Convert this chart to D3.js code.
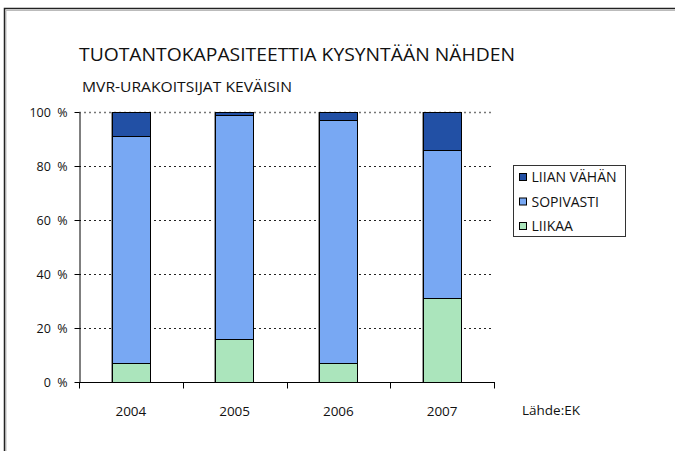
<!DOCTYPE html>
<html>
<head>
<meta charset="utf-8">
<script src="https://cdn.jsdelivr.net/npm/d3@7"></script>
<style>
    html, body { margin: 0; background: #fff; overflow: hidden; }
    svg { display: block; font-family: 'Open Sans', sans-serif; }
</style>
</head>
<body>
<div id="chart"></div>
<script>
// categories and series (percent shares)
var years = ['2004', '2005', '2006', '2007'];
var liikaa = [7, 16, 7, 31];
var sopivasti = [84, 83, 90, 55];
var liianVahan = [9, 1, 3, 14];
var yTicks = [0, 20, 40, 60, 80, 100];

var seriesNames = ['LIIKAA', 'SOPIVASTI', 'LIIAN VÄHÄN'];
var seriesColors = ['#abe5bc', '#78a8f3', '#2250a5'];

var width = 675, height = 451;

var svg = d3.select('#chart').append('svg')
    .attr('width', width)
    .attr('height', height);

//outer frame, cropped at right and bottom like the original
svg.append('path')
    .attr('d', 'M6,' + height + 'V10.5H' + width)
    .attr('fill', 'none')
    .attr('stroke', '#bbb')
    .attr('stroke-width', 1);
svg.append('path')
    .attr('d', 'M4.5,' + height + 'V8.5H' + width)
    .attr('fill', 'none')
    .attr('stroke', '#222')
    .attr('stroke-width', 1.5);

//titles
svg.append('text')
    .attr('x', 79).attr('y', 61)
    .attr('font-size', 18)
    .attr('textLength', 436)
    .attr('lengthAdjust', 'spacingAndGlyphs')
    .attr('fill', '#111')
    .text('TUOTANTOKAPASITEETTIA KYSYNTÄÄN NÄHDEN');
svg.append('text')
    .attr('x', 82).attr('y', 92)
    .attr('font-size', 14)
    .attr('textLength', 210)
    .attr('lengthAdjust', 'spacingAndGlyphs')
    .attr('fill', '#111')
    .text('MVR-URAKOITSIJAT KEVÄISIN');

//scales
var x = d3.scaleBand().domain(years).range([79, 494]).padding(0);
var y = d3.scaleLinear().domain([0, 100]).range([382, 112]);
var barW = x.bandwidth() * 0.37;

function barLeft(yr) {
    return Math.round(x(yr) + (x.bandwidth() - barW) / 2);
}

//gridlines
svg.append('g')
    .selectAll('line')
    .data(yTicks.filter(function (d) { return d > 0; }))
    .enter()
    .append('line')
    .attr('x1', 79).attr('x2', 494)
    .attr('y1', function (d) { return Math.round(y(d)) + 0.5; })
    .attr('y2', function (d) { return Math.round(y(d)) + 0.5; })
    .attr('stroke', function (d) { return d == 100 ? '#777' : '#222'; })
    .attr('stroke-width', function (d) { return d == 100 ? 1.5 : 1; })
    .attr('stroke-dasharray', '2,3');

//stacking data
var rows = years.map(function (yr, i) {
    return { year: yr, LIIKAA: liikaa[i], SOPIVASTI: sopivasti[i], 'LIIAN VÄHÄN': liianVahan[i] };
});
var stacked = d3.stack().keys(seriesNames)(rows);

//faint shadow on left edge of bars
svg.append('g')
    .selectAll('line')
    .data(years)
    .enter()
    .append('line')
    .attr('x1', function (d) { return barLeft(d) - 0.5; })
    .attr('x2', function (d) { return barLeft(d) - 0.5; })
    .attr('y1', y(0)).attr('y2', y(100))
    .attr('stroke', '#999');

var layers = svg.append('g')
    .selectAll('g')
    .data(stacked)
    .enter()
    .append('g')
    .attr('fill', function (d, i) { return seriesColors[i]; });

layers.selectAll('rect')
    .data(function (d) { return d; })
    .enter()
    .append('rect')
    .attr('x', function (d) { return barLeft(d.data.year) + 0.5; })
    .attr('width', Math.round(barW))
    .attr('y', function (d) { return Math.round(y(d[1])) + 0.5; })
    .attr('height', function (d) { return Math.round(y(d[0])) - Math.round(y(d[1])); })
    .attr('stroke', '#000')
    .attr('stroke-width', 1);

//y axis
var yAxis = svg.append('g')
    .attr('transform', 'translate(79.5,0)')
    .call(d3.axisLeft(y).tickValues(yTicks).tickSize(5).tickSizeOuter(0)
        .tickFormat(function (d) { return d + '\u2002%'; }));
yAxis.selectAll('text').attr('font-size', 12.5).attr('fill', '#111')
    .attr('font-family', "'Open Sans', sans-serif").attr('dx', -4);
yAxis.selectAll('line, path').attr('stroke', '#000');

//x axis with ticks at category boundaries
var xAxisG = svg.append('g').attr('transform', 'translate(0,382.5)');
xAxisG.append('line')
    .attr('x1', 79).attr('x2', 495)
    .attr('stroke', '#000');
xAxisG.selectAll('.tk')
    .data(years.concat(['end']))
    .enter()
    .append('line')
    .attr('x1', function (d) { return Math.round(d == 'end' ? x.range()[1] : x(d)) + 0.5; })
    .attr('x2', function (d) { return Math.round(d == 'end' ? x.range()[1] : x(d)) + 0.5; })
    .attr('y1', 0).attr('y2', 6)
    .attr('stroke', '#000');
xAxisG.selectAll('text')
    .data(years)
    .enter()
    .append('text')
    .attr('x', function (d) { return x(d) + x.bandwidth() / 2; })
    .attr('y', 33)
    .attr('text-anchor', 'middle')
    .attr('font-size', 13.5)
    .attr('fill', '#111')
    .text(function (d) { return d; });

//source
svg.append('text')
    .attr('x', 522).attr('y', 415)
    .attr('font-size', 13.5)
    .attr('fill', '#111')
    .text('Lähde:EK');

//legend
var legend = svg.append('g').attr('transform', 'translate(513.5,165.5)');
legend.append('rect')
    .attr('width', 112).attr('height', 71)
    .attr('fill', '#fff')
    .attr('stroke', '#333');
var legendItems = legend.selectAll('.item')
    .data(seriesNames.slice().reverse())
    .enter()
    .append('g')
    .attr('transform', function (d, i) { return 'translate(6,' + (8 + i * 24.5) + ')'; });
legendItems.append('rect')
    .attr('width', 7).attr('height', 7)
    .attr('fill', function (d) { return seriesColors[seriesNames.indexOf(d)]; })
    .attr('stroke', '#000');
legendItems.append('text')
    .attr('x', 12).attr('y', 8.5)
    .attr('font-size', 14)
    .attr('fill', '#111')
    .text(function (d) { return d; });
</script>
</body>
</html>
